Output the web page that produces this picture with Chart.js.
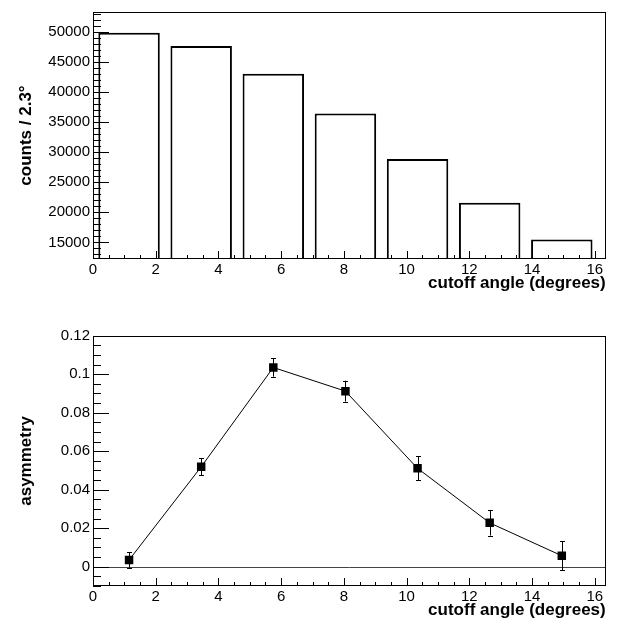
<!DOCTYPE html>
<html>
<head>
<meta charset="utf-8">
<script src="https://cdn.jsdelivr.net/npm/chart.js@4.4.0/dist/chart.umd.min.js"></script>
<style>
    html, body { margin: 0; padding: 0; background: #fff; }
    .box { position: absolute; left: 0; width: 617px; }
</style>
</head>
<body>
<div class="box" style="top:0;height:300px"><canvas id="countsChart"></canvas></div>
<div class="box" style="top:300px;height:319px"><canvas id="asymChart"></canvas></div>
<script>
// bin centres of the 2.3 degree bins
const binCenters = [1.15, 3.45, 5.75, 8.05, 10.35, 12.65, 14.95];
const counts = [49800, 47600, 43000, 36400, 28850, 21600, 15500];
const asymmetry = [0.0035, 0.0519, 0.1035, 0.0912, 0.0511, 0.0228, 0.0057];
const asymErrors = [0.004, 0.0045, 0.0048, 0.0054, 0.0063, 0.0066, 0.0075];

// tick labels
const angleTicks = [0, 2, 4, 6, 8, 10, 12, 14, 16];
const countTicks = [15000, 20000, 25000, 30000, 35000, 40000, 45000, 50000];
const asymTicks = [0, 0.02, 0.04, 0.06, 0.08, 0.1, 0.12];

const FONT = "'Liberation Sans', Arial, Helvetica, sans-serif";
const tickFont = { family: FONT, size: 15 };
const titleFont = { family: FONT, size: 17, weight: 'bold', lineHeight: 1 };

// ROOT style frame with inner ticks
const rootFrame = {
    id: 'rootFrame',
    afterDatasetsDraw(chart, args, opts) {
        const { ctx, chartArea: a, scales: { x, y } } = chart;
        ctx.save();
        ctx.strokeStyle = '#000';
        ctx.lineWidth = 1;
        ctx.beginPath();
        const isMajor = (v, step) => Math.abs(v / step - Math.round(v / step)) < 1e-6;
        for (let i = Math.ceil(x.min / opts.xMinor); i * opts.xMinor <= x.max + 1e-9; i++) {
            const v = i * opts.xMinor;
            const px = Math.round(x.getPixelForValue(v)) + 0.5;
            const len = isMajor(v, opts.xMajor) ? 8 : 4;
            ctx.moveTo(px, a.bottom);
            ctx.lineTo(px, a.bottom - len);
        }
        for (let i = Math.ceil(y.min / opts.yMinor); i * opts.yMinor <= y.max + 1e-9; i++) {
            const v = i * opts.yMinor;
            const py = Math.round(y.getPixelForValue(v)) + 0.5;
            const len = isMajor(v, opts.yMajor) ? 16 : 8;
            ctx.moveTo(a.left, py);
            ctx.lineTo(a.left + len, py);
        }
        ctx.stroke();
        ctx.strokeRect(Math.round(a.left) + 0.5, Math.round(a.top) + 0.5,
            Math.round(a.width) - 1, Math.round(a.height) - 1);
        ctx.restore();
    }
};

const fixedTicks = (values) => (scale) => {
    scale.ticks = values.map(v => ({ value: v }));
};
const plainLabel = (v) => String(Math.round(v * 1000) / 1000);
const noGrid = { display: false, drawTicks: false };

// ====== COUNTS HISTOGRAM ======
new Chart(document.getElementById('countsChart'), {
    type: 'bar',
    data: {
        datasets: [{
            data: binCenters.map((c, i) => ({ x: c, y: counts[i] })),
            backgroundColor: '#fff',
            borderColor: '#000',
            borderWidth: 2,
            borderSkipped: 'bottom',
            barPercentage: 0.98,
            categoryPercentage: 1
        }]
    },
    options: {
        responsive: true,
        maintainAspectRatio: false,
        animation: false,
        layout: { padding: { top: 9, right: 11.3, left: 0, bottom: 0 } },
        plugins: {
            legend: { display: false },
            tooltip: { enabled: false },
            rootFrame: { xMinor: 0.5, xMajor: 2, yMinor: 1000, yMajor: 5000 }
        },
        scales: {
            x: {
                type: 'linear',
                min: 0,
                max: 16.35,
                offset: false,
                grid: noGrid,
                border: { display: false },
                afterBuildTicks: fixedTicks(angleTicks),
                afterFit: (s) => { s.height = 41; },
                ticks: { color: '#000', font: tickFont, padding: 2, maxRotation: 0, callback: plainLabel },
                title: { display: true, text: 'cutoff angle (degrees)', align: 'end', color: '#000',
                    font: titleFont, padding: { top: 0, bottom: 8 } }
            },
            y: {
                min: 12250,
                max: 53250,
                grid: noGrid,
                border: { display: false },
                afterBuildTicks: fixedTicks(countTicks),
                afterFit: (s) => { s.width = 93; },
                ticks: { color: '#000', font: tickFont, padding: 3, callback: plainLabel },
                title: { display: true, text: 'counts / 2.3°', color: '#000',
                    font: titleFont, padding: { top: 17.5, bottom: 0 } }
            }
        }
    },
    plugins: [rootFrame]
});

// ====== ASYMMETRY GRAPH ======
const asymExtras = {
    id: 'asymExtras',
    beforeDatasetsDraw(chart) {
        const { ctx, chartArea: a, scales: { x, y } } = chart;
        ctx.save();
        // zero line
        ctx.strokeStyle = '#444';
        ctx.lineWidth = 1;
        const y0 = Math.round(y.getPixelForValue(0)) + 0.5;
        ctx.beginPath();
        ctx.moveTo(a.left, y0);
        ctx.lineTo(a.right, y0);
        ctx.stroke();
        // error bars
        ctx.strokeStyle = '#000';
        ctx.beginPath();
        binCenters.forEach((c, i) => {
            const px = Math.round(x.getPixelForValue(c)) + 0.5;
            const hi = y.getPixelForValue(asymmetry[i] + asymErrors[i]);
            const lo = y.getPixelForValue(asymmetry[i] - asymErrors[i]);
            ctx.moveTo(px, hi);
            ctx.lineTo(px, lo);
            ctx.moveTo(px - 2.5, Math.round(hi) + 0.5);
            ctx.lineTo(px + 2.5, Math.round(hi) + 0.5);
            ctx.moveTo(px - 2.5, Math.round(lo) + 0.5);
            ctx.lineTo(px + 2.5, Math.round(lo) + 0.5);
        });
        ctx.stroke();
        ctx.restore();
    }
};

new Chart(document.getElementById('asymChart'), {
    type: 'line',
    data: {
        datasets: [{
            data: binCenters.map((c, i) => ({ x: c, y: asymmetry[i] })),
            borderColor: '#000',
            borderWidth: 1,
            tension: 0,
            pointStyle: 'rect',
            pointRadius: 6,
            pointBackgroundColor: '#000',
            pointBorderWidth: 0
        }]
    },
    options: {
        responsive: true,
        maintainAspectRatio: false,
        animation: false,
        layout: { padding: { top: 35.7, right: 11.3, left: 0, bottom: 0 } },
        plugins: {
            legend: { display: false },
            tooltip: { enabled: false },
            rootFrame: { xMinor: 0.5, xMajor: 2, yMinor: 0.005, yMajor: 0.02 }
        },
        scales: {
            x: {
                type: 'linear',
                min: 0,
                max: 16.35,
                grid: noGrid,
                border: { display: false },
                afterBuildTicks: fixedTicks(angleTicks),
                afterFit: (s) => { s.height = 33; },
                ticks: { color: '#000', font: tickFont, padding: 2, maxRotation: 0, callback: plainLabel },
                title: { display: true, text: 'cutoff angle (degrees)', align: 'end', color: '#000',
                    font: titleFont, padding: { top: 0, bottom: 0.5 } }
            },
            y: {
                min: -0.01,
                max: 0.12,
                grid: noGrid,
                border: { display: false },
                afterBuildTicks: fixedTicks(asymTicks),
                afterFit: (s) => { s.width = 93; },
                ticks: { color: '#000', font: tickFont, padding: 3, callback: plainLabel },
                title: { display: true, text: 'asymmetry', color: '#000',
                    font: titleFont, padding: { top: 17.5, bottom: 0 } }
            }
        }
    },
    plugins: [asymExtras, rootFrame]
});
</script>
</body>
</html>
